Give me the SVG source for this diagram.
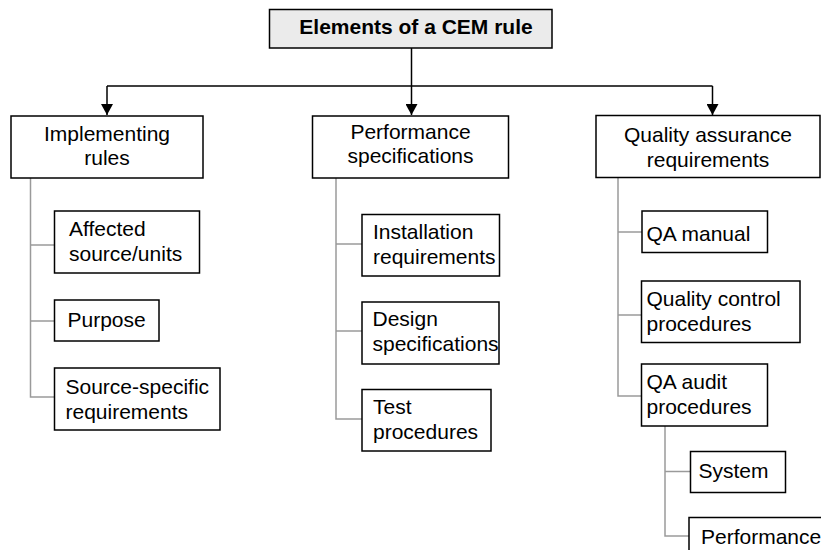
<svg xmlns="http://www.w3.org/2000/svg" width="821" height="550" viewBox="0 0 821 550">
  <defs>
    <marker id="arrow" markerWidth="11" markerHeight="12" refX="11" refY="6" orient="auto" markerUnits="userSpaceOnUse" viewBox="0 0 11 12">
      <path d="M0,0 L11,6 L0,12 Z" fill="#000"/>
    </marker>
    <style>
      .box { fill: #fff; stroke: #000; stroke-width: 1.5; }
      .root { fill: #ebebeb; stroke: #000; stroke-width: 1.5; }
      .t { font-family: "Liberation Sans", Arial, sans-serif; font-size: 21px; fill: #000; }
      .c { text-anchor: middle; }
      .b { font-weight: bold; }
      .main { fill: none; stroke: #000; stroke-width: 1.5; }
      .sub { fill: none; stroke: #9a9a9a; stroke-width: 1.5; }
    </style>
  </defs>
  <rect width="821" height="550" fill="#fff"/>

  <!-- connectors -->
  <g id="connectors">
    <path class="main" d="M411.5,48 V115" marker-end="url(#arrow)"/>
    <path class="main" d="M107,86 H712.5"/>
    <path class="main" d="M107,86 V115" marker-end="url(#arrow)"/>
    <path class="main" d="M712.5,86 V115" marker-end="url(#arrow)"/>
    <!-- implementing rules branches -->
    <path class="sub" d="M30.5,178 V397 H54 M30.5,245 H54 M30.5,321 H54"/>
    <!-- performance specification branches -->
    <path class="sub" d="M336,178 V419 H362 M336,244 H362 M336,331 H362"/>
    <!-- QA requirement branches -->
    <path class="sub" d="M618,178 V396 H641 M618,232 H642 M618,315 H641"/>
    <!-- QA audit branches -->
    <path class="sub" d="M665,426 V536 H689 M665,471.5 H690.5"/>
  </g>

  <!-- root -->
  <g id="cem-rule">
    <rect class="root" x="269.5" y="9.5" width="282.5" height="38.5"/>
    <text class="t b c" x="416" y="34">Elements of a CEM rule</text>
  </g>

  <!-- level 1 -->
  <g id="implementing-rules">
    <rect class="box" x="11" y="116" width="192" height="62"/>
    <text class="t c" x="107" y="140.5">Implementing</text>
    <text class="t c" x="107" y="165">rules</text>
  </g>
  <g id="performance-specifications">
    <rect class="box" x="312.5" y="116" width="196" height="62"/>
    <text class="t c" x="410.5" y="138.5">Performance</text>
    <text class="t c" x="410.5" y="163">specifications</text>
  </g>
  <g id="qa-requirements">
    <rect class="box" x="596" y="115.5" width="224" height="62"/>
    <text class="t c" x="708" y="141.5">Quality assurance</text>
    <text class="t c" x="708" y="166.5">requirements</text>
  </g>

  <!-- implementing rules children -->
  <g id="affected-source">
    <rect class="box" x="54.5" y="211" width="145" height="62"/>
    <text class="t" x="69" y="235.5">Affected</text>
    <text class="t" x="69" y="260.5">source/units</text>
  </g>
  <g id="purpose">
    <rect class="box" x="54.5" y="300" width="104.5" height="41"/>
    <text class="t" x="67.5" y="326.5">Purpose</text>
  </g>
  <g id="source-specific">
    <rect class="box" x="54.5" y="368" width="165.5" height="62"/>
    <text class="t" x="65.5" y="393.5">Source-specific</text>
    <text class="t" x="65.5" y="418.5">requirements</text>
  </g>

  <!-- performance specifications children -->
  <g id="installation">
    <rect class="box" x="362" y="214.5" width="137.5" height="61.5"/>
    <text class="t" x="373" y="239">Installation</text>
    <text class="t" x="373" y="264">requirements</text>
  </g>
  <g id="design">
    <rect class="box" x="362" y="302" width="137" height="62"/>
    <text class="t" x="372.5" y="325.5">Design</text>
    <text class="t" x="372.5" y="350.5">specifications</text>
  </g>
  <g id="test">
    <rect class="box" x="362" y="389.5" width="129" height="61.5"/>
    <text class="t" x="373" y="413.5">Test</text>
    <text class="t" x="373" y="438.5">procedures</text>
  </g>

  <!-- QA requirements children -->
  <g id="qa-manual">
    <rect class="box" x="642" y="211" width="125.5" height="41.5"/>
    <text class="t" x="646.5" y="241">QA manual</text>
  </g>
  <g id="quality-control">
    <rect class="box" x="641.5" y="281" width="158.5" height="61.5"/>
    <text class="t" x="646.5" y="305.5">Quality control</text>
    <text class="t" x="646.5" y="330.5">procedures</text>
  </g>
  <g id="qa-audit">
    <rect class="box" x="641.5" y="364" width="126" height="62"/>
    <text class="t" x="646.5" y="389">QA audit</text>
    <text class="t" x="646.5" y="413.5">procedures</text>
  </g>

  <!-- QA audit children -->
  <g id="system">
    <rect class="box" x="690.5" y="451.5" width="95" height="41"/>
    <text class="t" x="698.5" y="477.5">System</text>
  </g>
  <g id="performance">
    <rect class="box" x="689" y="517.5" width="140" height="60"/>
    <text class="t" x="701" y="543.5">Performance</text>
  </g>
</svg>
